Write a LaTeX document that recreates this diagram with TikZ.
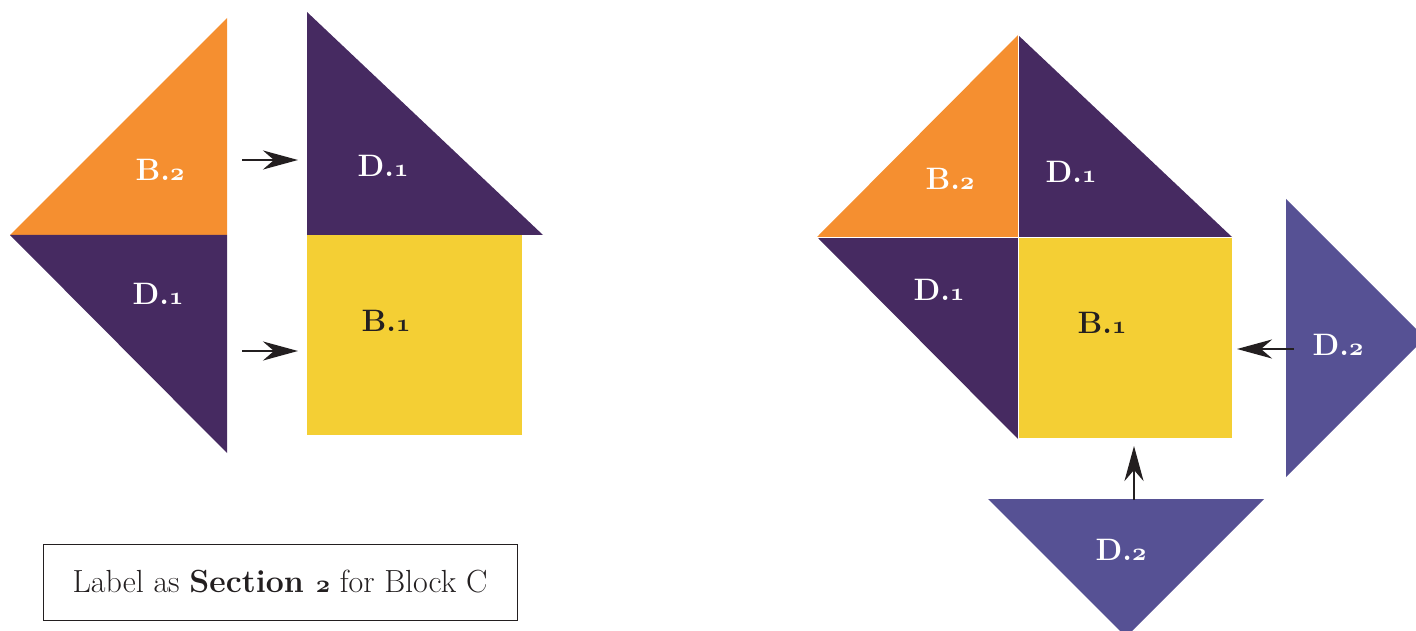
\documentclass[tikz,border=0pt]{standalone}
\usetikzlibrary{arrows.meta}
\definecolor{dpurple}{HTML}{462A61}
\definecolor{porange}{HTML}{F58F30}
\definecolor{pyellow}{HTML}{F4CF34}
\definecolor{pblue}{HTML}{565194}
\definecolor{ink}{HTML}{231F20}
\newcommand{\bos}[1]{{\fontencoding{OML}\fontfamily{cmm}\fontseries{b}\fontshape{it}\selectfont #1}}
\newcommand{\mos}[1]{{\fontencoding{OML}\fontfamily{cmm}\fontseries{m}\fontshape{it}\selectfont #1}}
\begin{document}
\begin{tikzpicture}[x=1pt,y=-1pt,
  lbl/.style={font=\fontsize{31}{36}\selectfont\bfseries, text=white, inner sep=0pt},
  dlbl/.style={lbl, text=ink},
  arr/.style={draw=ink, line width=2.8pt, -{Stealth[length=35pt,width=19pt,inset=11pt]}},
  boxlbl/.style={draw=ink, line width=1pt, minimum width=474pt, minimum height=76pt, inner sep=0pt, font=\fontsize{32}{38}\selectfont, text=ink}]
\useasboundingbox (0,0) rectangle (1416,631);
\clip (0,0) rectangle (1416,631);
% left pieces
\fill[porange] (10,235) -- (227,18) -- (227,235) -- cycle;
\fill[dpurple] (10,235) -- (227,235) -- (227,453) -- cycle;
\fill[dpurple] (307,12) -- (307,235) -- (543,235) -- cycle;
\fill[pyellow] (307,235) rectangle (522,435);
\node[lbl] (lB2) at (160,170) {B.\bos{2}};
\node[lbl] (lD1) at (158,294) {D.\bos{1}};
\node[lbl] (tD1) at (383,166) {D.\bos{1}};
\node[dlbl] (lB1) at (386,321) {B.\bos{1}};
\coordinate (a1s) at (242,160);
\coordinate (a1e) at (298,160);
\coordinate (a2s) at (242,351);
\coordinate (a2e) at (298,351);
\draw[arr] (a1s) -- (a1e);
\draw[arr] (a2s) -- (a2e);
% right pieces
\fill[porange] (817,237) -- (1018,35) -- (1018,237) -- cycle;
\fill[dpurple] (1018,35) -- (1018,237) -- (1232,237) -- cycle;
\fill[dpurple] (817,237) -- (1018,237) -- (1018,439) -- cycle;
\fill[pyellow] (1018,237) rectangle (1232,438);
\fill[pblue] (1286,199) -- (1286,477) -- (1425,338) -- cycle;
\fill[pblue] (988,499) -- (1264,499) -- (1126,637) -- cycle;
\draw[white, line width=0.6pt] (1018,35) -- (1018,439) (817,237) -- (1232,237);
\node[lbl] (rB2) at (950,179) {B.\bos{2}};
\node[lbl] (rD1a) at (1071,172) {D.\bos{1}};
\node[lbl] (rD1b) at (939,290) {D.\bos{1}};
\node[dlbl] (rB1) at (1102,323) {B.\bos{1}};
\node[lbl] (rD2a) at (1338,345) {D.\bos{2}};
\node[lbl] (rD2b) at (1121,550) {D.\bos{2}};
\coordinate (a3s) at (1294,349);
\coordinate (a3e) at (1237,349);
\coordinate (a4s) at (1134,500);
\coordinate (a4e) at (1134,446);
\draw[arr] (a3s) -- (a3e);
\draw[arr] (a4s) -- (a4e);
% label box
\node[boxlbl] (box) at (280,582) {Label as \textbf{Section \bos{2}} for Block C};
\end{tikzpicture}
\end{document}
